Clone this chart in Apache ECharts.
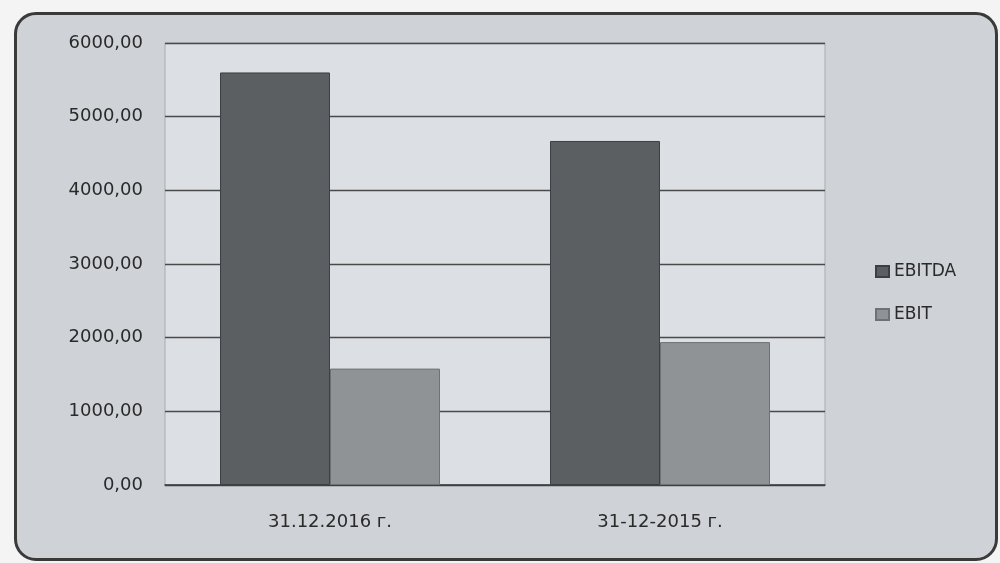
<!DOCTYPE html>
<html>
<head>
<meta charset="utf-8">
<script src="https://cdn.jsdelivr.net/npm/echarts@6/dist/echarts.min.js"></script>
<style>
  html, body { margin: 0; padding: 0; background: #f4f4f4; }
  #frame {
    position: absolute; left: 14px; top: 12px; width: 984px; height: 549px;
    box-sizing: border-box; border: 3px solid #3a3a3a; border-radius: 22px;
    background: #cfd2d6; overflow: hidden;
  }
  #main { position: absolute; left: -17px; top: -15px; width: 1000px; height: 563px; }
</style>
</head>
<body>
<div id="frame"><div id="main"></div></div>
<script>
// categories and series values
const categories = ["31.12.2016 г.", "31-12-2015 г."];
const ebitda = [5600, 4670];
const ebit = [1580, 1940];
const yTicks = [0, 1000, 2000, 3000, 4000, 5000, 6000];

const font = "DejaVu Sans";
const chart = echarts.init(document.getElementById("main"));

chart.setOption({
  animation: false,
  textStyle: { fontFamily: font },
  grid: {
    left: 165, right: 175, top: 43, bottom: 78,
    show: true, backgroundColor: "#dcdfe3", borderColor: "#a9acb0", borderWidth: 1
  },
  legend: {
    orient: "vertical",
    left: 870, top: 258,
    itemGap: 26,
    itemWidth: 13, itemHeight: 11,
    icon: "rect",
    textStyle: { fontFamily: font, fontSize: 17, color: "#2a2a2a" },
    data: ["EBITDA", "EBIT"]
  },
  xAxis: {
    type: "category",
    data: categories,
    axisLine: { lineStyle: { color: "#3c3c3c", width: 1.5 } },
    axisTick: { show: false },
    axisLabel: { fontFamily: font, fontSize: 18, color: "#2a2a2a", margin: 28 }
  },
  yAxis: {
    type: "value",
    min: yTicks[0],
    max: yTicks[yTicks.length - 1],
    interval: 1000,
    axisLine: { show: false },
    axisTick: { show: false },
    splitLine: { lineStyle: { color: "#4a4a4a", width: 1.3 } },
    axisLabel: {
      fontFamily: font, fontSize: 18, color: "#2a2a2a", margin: 22,
      formatter: v => v.toFixed(2).replace(".", ",")
    }
  },
  series: [
    {
      name: "EBITDA",
      type: "bar",
      data: ebitda,
      barWidth: 110,
      barGap: "0%",
      itemStyle: { color: "#5b5f61", borderColor: "#3d4042", borderWidth: 1 }
    },
    {
      name: "EBIT",
      type: "bar",
      data: ebit,
      barWidth: 110,
      barGap: "0%",
      itemStyle: { color: "#8f9395", borderColor: "#6e7274", borderWidth: 1 }
    }
  ]
});
</script>
</body>
</html>
